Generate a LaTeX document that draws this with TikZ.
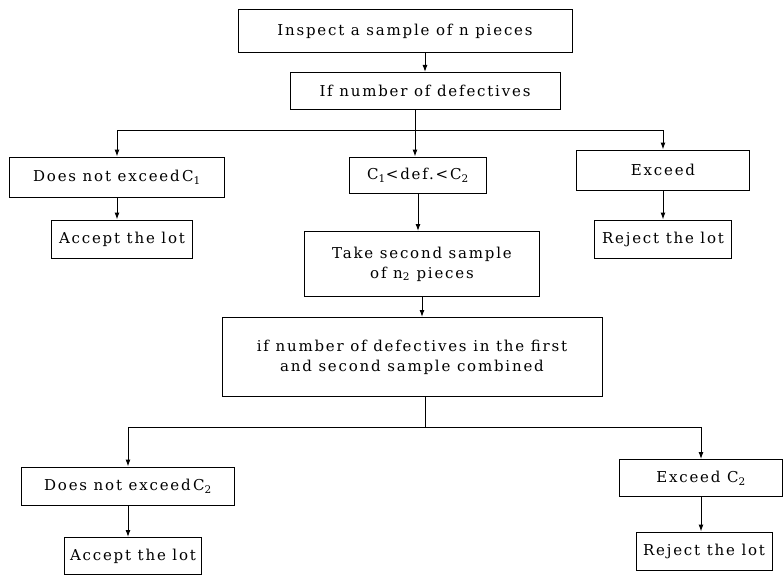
\documentclass[tikz,border=0pt]{standalone}
\usepackage{fontspec}
\setmainfont{DejaVu Serif}[LetterSpace=12]
\usetikzlibrary{arrows.meta,calc}

\begin{document}
\begin{tikzpicture}[x=1pt,y=-1pt,line width=1pt]
\tikzset{box/.style={draw,rectangle,inner sep=2pt,align=center,
  font=\fontsize{15}{20}\selectfont}}
\tikzset{link/.style={-{Latex[length=7pt,width=5pt]}}}
\useasboundingbox (0,0) rectangle (783,575);

\node[box,minimum width=334,minimum height=43](start)at(405,31){Inspect a sample of n pieces};
\node[box,minimum width=270,minimum height=37](q1)at(425,91){If number of defectives};
\coordinate(fork1)at(415,130);

\node[box,minimum width=215,minimum height=40](low1)at(117,177){Does not exceed\,C\textsubscript{1}};
\node[box,minimum width=137,minimum height=36](mid1)at(418,175){C\textsubscript{1}<def.<C\textsubscript{2}};
\node[box,minimum width=173,minimum height=40](high1)at(663,170){Exceed};
\node[box,minimum width=141,minimum height=38](acc1)at(122,239){Accept the lot};
\node[box,minimum width=137,minimum height=38](rej1)at(663,239){Reject the lot};
\node[box,minimum width=235,minimum height=65](take2)at(422,264){Take second sample\\of n\textsubscript{2} pieces};
\node[box,minimum width=380,minimum height=79](q2)at(412,357){if number of defectives in the first\\and second sample combined};
\coordinate(fork2)at(425,427);

\node[box,minimum width=213,minimum height=38](low2)at(128,486){Does not exceed\,C\textsubscript{2}};
\node[box,minimum width=163,minimum height=37](high2)at(701,478){Exceed C\textsubscript{2}};
\node[box,minimum width=137,minimum height=37](acc2)at(133,556){Accept the lot};
\node[box,minimum width=136,minimum height=38](rej2)at(704,551){Reject the lot};

\draw[link](start.south -| q1.north)--(q1.north);
\draw(q1.south -| fork1)--(fork1);
\draw[link](fork1)-|(low1.north);
\draw[link](fork1)--(fork1 |- mid1.north);
\draw[link](fork1)-|(high1.north);
\draw[link](low1.south)--(low1.south |- acc1.north);
\draw[link](high1.south)--(high1.south |- rej1.north);
\draw[link](mid1.south)--(mid1.south |- take2.north);
\draw[link](take2.south)--(take2.south |- q2.north);
\draw(q2.south -| fork2)--(fork2);
\draw[link](fork2)-|(low2.north);
\draw[link](fork2)-|(high2.north);
\draw[link](low2.south)--(low2.south |- acc2.north);
\draw[link](high2.south)--(high2.south |- rej2.north);
\end{tikzpicture}
\end{document}
